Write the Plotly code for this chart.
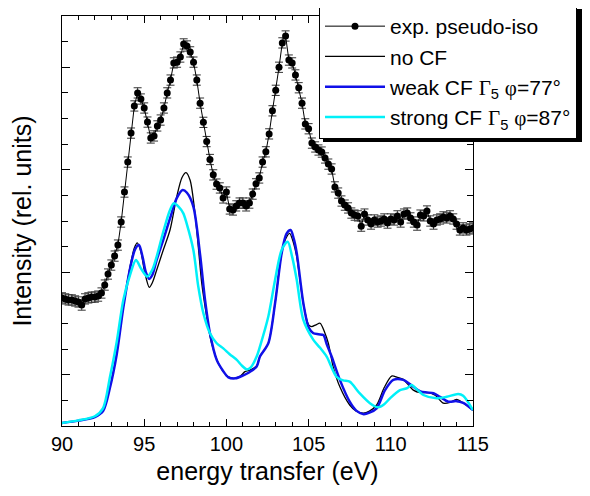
import plotly.graph_objects as go

# ---------------- data ----------------
exp_x = [90.0, 90.2, 90.4, 90.6, 90.8, 91.0, 91.2, 91.4, 91.6, 91.8,
         92.0, 92.2, 92.4, 92.6, 92.8, 93.0, 93.2, 93.4, 93.6, 93.8,
         94.0, 94.2, 94.4, 94.6, 94.8, 95.0, 95.2, 95.4, 95.6, 95.8,
         96.0, 96.2, 96.4, 96.6, 96.8, 97.0, 97.2, 97.4, 97.6, 97.8,
         98.0, 98.2, 98.4, 98.6, 98.8, 99.0, 99.2, 99.4, 99.6, 99.8,
         100.0, 100.2, 100.4, 100.6, 100.8, 101.0, 101.2, 101.4, 101.6, 101.8,
         102.0, 102.2, 102.4, 102.6, 102.8, 103.0, 103.2, 103.4, 103.6, 103.8,
         104.0, 104.2, 104.4, 104.6, 104.8, 105.0, 105.2, 105.4, 105.6, 105.8,
         106.0, 106.2, 106.4, 106.6, 106.8, 107.0, 107.2, 107.4, 107.6, 107.8,
         108.0, 108.2, 108.4, 108.6, 108.8, 109.0, 109.2, 109.4, 109.6, 109.8,
         110.0, 110.2, 110.4, 110.6, 110.8, 111.0, 111.2, 111.4, 111.6, 111.8,
         112.0, 112.2, 112.4, 112.6, 112.8, 113.0, 113.2, 113.4, 113.6, 113.8,
         114.0, 114.2, 114.4, 114.6, 114.8, 115.0]
exp_y = [5.00, 4.96, 4.92, 4.92, 4.88, 4.84, 4.72, 4.96, 5.00, 5.03,
         5.03, 5.07, 5.19, 5.50, 5.93, 6.28, 6.63, 7.06, 7.96, 9.13,
         10.30, 11.43, 12.49, 13.00, 12.76, 12.41, 11.86, 11.24, 11.32, 11.71,
         11.94, 12.41, 13.00, 13.50, 14.17, 14.20, 14.40, 14.91, 14.83, 14.60,
         14.20, 13.50, 12.60, 11.85, 11.10, 10.40, 9.80, 9.44, 9.29, 8.90,
         9.13, 8.47, 8.43, 8.59, 8.70, 8.70, 8.59, 8.70, 9.05, 9.45,
         9.68, 10.30, 10.70, 11.40, 12.30, 13.10, 14.00, 14.95, 15.22, 14.28,
         14.17, 13.70, 13.20, 12.60, 11.79, 11.60, 11.04, 10.89, 10.77, 10.69,
         10.46, 10.22, 10.03, 9.33, 9.09, 8.78, 8.62, 8.51, 8.31, 8.23,
         8.20, 7.80, 8.27, 8.04, 7.88, 8.04, 7.96, 8.00, 8.08, 7.92,
         8.08, 8.04, 8.20, 7.96, 8.27, 8.31, 8.12, 7.96, 7.84, 8.23,
         8.20, 8.39, 8.00, 7.88, 8.04, 8.08, 8.16, 8.12, 8.20, 8.08,
         7.88, 7.65, 7.73, 7.65, 7.69, 7.73]
exp_err = 0.2

nocf_x = [90.0, 91.0, 92.0, 92.5, 92.92, 93.33, 93.73, 94.14, 94.4, 94.58,
          94.8, 95.0, 95.31, 95.5, 95.76, 96.16, 96.57, 96.98, 97.3, 97.54,
          97.79, 98.09, 98.29, 98.5, 98.8, 99.1, 99.61, 100.12, 100.52, 100.85,
          101.13, 101.5, 101.84, 102.04, 102.55, 102.96, 103.36, 103.6, 103.85, 104.1,
          104.28, 104.68, 105.0, 105.19, 105.45, 105.7, 105.95, 106.2, 106.5, 106.9,
          107.5, 107.9, 108.33, 108.7, 109.14, 109.6, 110.05, 110.4, 110.76, 111.37,
          111.8, 112.18, 112.7, 113.2, 113.6, 114.0, 114.4, 115.0]
nocf_y = [0.12, 0.21, 0.35, 0.60, 1.53, 2.85, 4.66, 6.22, 6.95, 7.15,
          6.80, 6.10, 5.41, 5.60, 6.09, 6.87, 7.65, 8.95, 9.70, 9.89,
          9.60, 8.30, 7.00, 5.57, 4.27, 3.23, 2.32, 1.92, 1.86, 1.95,
          2.12, 2.20, 2.35, 2.71, 3.23, 4.79, 6.74, 7.30, 7.52, 7.10,
          6.60, 4.79, 3.95, 3.88, 3.95, 4.01, 3.70, 3.23, 2.30, 1.53,
          0.82, 0.58, 0.50, 0.58, 0.82, 1.50, 1.95, 1.90, 1.82, 1.40,
          1.30, 1.31, 1.20, 0.89, 0.92, 1.04, 0.90, 0.62]

weak_x = [90.0, 91.0, 92.0, 92.5, 92.92, 93.33, 93.73, 94.14, 94.45, 94.68,
          94.9, 95.1, 95.31, 95.5, 95.76, 96.16, 96.57, 96.98, 97.34, 97.6,
          97.99, 98.39, 98.7, 99.0, 99.41, 99.8, 100.12, 100.55, 101.0, 101.4,
          101.84, 102.04, 102.55, 102.96, 103.36, 103.65, 103.91, 104.1, 104.28, 104.68,
          105.0, 105.29, 105.6, 105.9, 106.1, 106.4, 106.9, 107.5, 107.9, 108.35,
          108.7, 109.14, 109.65, 110.15, 110.76, 111.37, 111.8, 112.18, 112.6, 112.99,
          113.5, 114.0, 114.4, 115.0]
weak_y = [0.12, 0.21, 0.35, 0.58, 1.50, 2.80, 4.62, 6.15, 6.90, 7.06,
          6.60, 6.00, 5.74, 5.90, 6.48, 7.26, 8.10, 8.89, 9.21, 9.10,
          8.56, 6.74, 4.92, 3.62, 2.58, 2.15, 1.90, 1.86, 1.97, 2.10,
          2.32, 2.71, 3.23, 4.79, 6.74, 7.50, 7.65, 7.30, 6.74, 4.79,
          3.85, 3.62, 3.58, 3.55, 3.20, 2.71, 1.80, 0.95, 0.60, 0.46,
          0.52, 0.69, 1.40, 1.80, 1.80, 1.53, 1.35, 1.31, 1.28, 1.14,
          0.95, 0.97, 0.90, 0.62]

strong_x = [90.0, 91.0, 92.0, 92.5, 92.92, 93.33, 93.73, 94.14, 94.5, 94.8,
            95.19, 95.5, 95.76, 96.16, 96.57, 96.81, 97.1, 97.38, 97.58, 97.99,
            98.29, 98.6, 99.0, 99.41, 99.81, 100.2, 100.63, 100.95, 101.23, 101.5,
            101.84, 102.04, 102.55, 102.96, 103.36, 103.73, 104.0, 104.28, 104.68, 105.29,
            105.7, 106.1, 106.7, 107.1, 107.5, 108.1, 108.73, 109.24, 109.6, 109.95,
            110.56, 111.0, 111.27, 111.6, 111.98, 112.79, 113.4, 114.1, 114.4, 115.0]
strong_y = [0.12, 0.22, 0.38, 0.70, 1.92, 3.29, 4.92, 5.90, 6.48, 6.15,
            5.83, 6.10, 6.61, 7.58, 8.43, 8.69, 8.55, 8.30, 7.91, 6.87,
            5.44, 4.40, 3.62, 3.23, 3.03, 2.80, 2.58, 2.35, 2.21, 2.30,
            2.71, 3.10, 4.27, 5.70, 6.87, 7.19, 6.60, 5.70, 4.14, 3.36,
            3.05, 2.71, 1.92, 1.78, 1.73, 1.28, 0.89, 0.73, 0.85, 1.08,
            1.40, 1.48, 1.60, 1.42, 1.21, 1.08, 1.14, 1.25, 1.18, 0.62]

x_ticks = [90, 95, 100, 105, 110, 115]
SERIF = "<span style=\"font-family:'Liberation Serif',serif\">%s</span>"
names = ["exp. pseudo-iso",
         "no CF",
         "weak CF " + SERIF % "Γ" + "<sub>5</sub> " + SERIF % "φ" + "=77°",
         "strong CF " + SERIF % "Γ" + "<sub>5</sub> " + SERIF % "φ" + "=87°"]

FONT = "Arial, 'Liberation Sans', sans-serif"

fig = go.Figure()
fig.add_trace(go.Scatter(
    x=exp_x, y=exp_y, mode="lines+markers", name=names[0],
    line=dict(color="black", width=1),
    marker=dict(color="black", size=7),
    error_y=dict(type="constant", value=exp_err, color="#333333", thickness=1, width=4),
))
fig.add_trace(go.Scatter(x=nocf_x, y=nocf_y, mode="lines", name=names[1],
                         line=dict(color="black", width=1.3, shape="spline", smoothing=0.8)))
fig.add_trace(go.Scatter(x=weak_x, y=weak_y, mode="lines", name=names[2],
                         line=dict(color="#1010E8", width=2.5, shape="spline", smoothing=0.8)))
fig.add_trace(go.Scatter(x=strong_x, y=strong_y, mode="lines", name=names[3],
                         line=dict(color="#00F0F8", width=2.5, shape="spline", smoothing=0.8)))

# The page body has an 8 px margin, so the figure starts at page (8, 8).
# Target plot area on the page: x 62..473, y 16..426.
OFF = 8
W, H = 590 - OFF, 496 - OFF
PW, PH = 411.0, 410.0
def px2paper_x(px):
    return (px - 62) / PW
def py2paper_y(py):
    return (426 - py) / PH

# legend drop shadow (legend box spans about x 319..578, y 5..138 on the page)
fig.add_shape(type="rect", xref="paper", yref="paper",
              x0=px2paper_x(323), x1=px2paper_x(582), y0=py2paper_y(142), y1=py2paper_y(9),
              fillcolor="black", line=dict(width=0), layer="above")

fig.update_layout(
    width=W, height=H,
    margin=dict(l=62 - OFF, r=W - (473 - OFF), t=16 - OFF, b=H - (426 - OFF), autoexpand=False),
    paper_bgcolor="white", plot_bgcolor="white",
    font=dict(family=FONT, color="black", size=20),
    showlegend=True,
    legend=dict(x=px2paper_x(319), y=py2paper_y(5), xanchor="left", yanchor="top",
                bgcolor="white", bordercolor="black", borderwidth=1,
                font=dict(size=21, family=FONT), itemwidth=60,
                tracegroupgap=0),
    xaxis=dict(range=[90, 115], tickvals=x_ticks, ticktext=[str(t) for t in x_ticks],
               showgrid=False, zeroline=False, showline=True, linecolor="black", linewidth=1.2,
               mirror="ticks", ticks="inside", ticklen=7, tickcolor="black",
               minor=dict(dtick=1, ticks="inside", ticklen=4, tickcolor="black"),
               tickfont=dict(size=20), automargin=False,
               title=dict(text="energy transfer (eV)", font=dict(size=25), standoff=8)),
    yaxis=dict(range=[0, 16], tick0=2, dtick=4, showticklabels=False,
               showgrid=False, zeroline=False, showline=True, linecolor="black", linewidth=1.2,
               mirror="ticks", ticks="inside", ticklen=8, tickcolor="black",
               minor=dict(dtick=1, tick0=0, ticks="inside", ticklen=6, tickcolor="black"),
               automargin=False,
               title=dict(text="Intensity (rel. units)", font=dict(size=25), standoff=27)),
)

fig.write_html("out.html")
